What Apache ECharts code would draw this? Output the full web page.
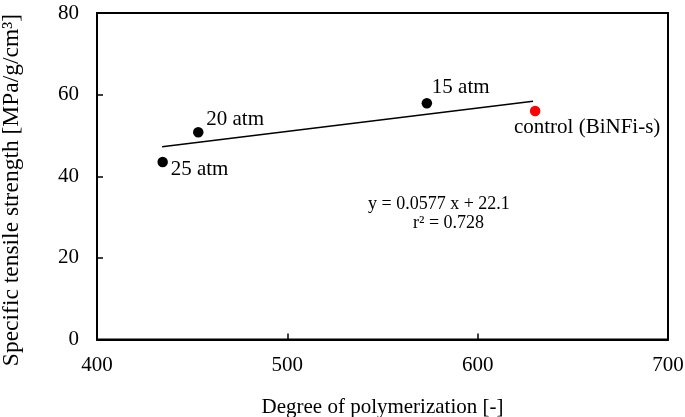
<!DOCTYPE html>
<html><head><meta charset="utf-8">
<script src="https://cdn.jsdelivr.net/npm/echarts@6/dist/echarts.min.js"></script>
<style>html,body{margin:0;padding:0;background:#fff}#c{width:685px;height:417px}</style>
</head><body><div id="c"></div>
<script>
const xTicks = [400, 500, 600, 700];
const yTicks = [0, 20, 40, 60, 80];
const sampleNames = ['25 atm', '20 atm', '15 atm'];
const sampleX = [434.5, 453.2, 573.3];
const sampleY = [43.5, 50.8, 57.9];
const controlName = 'control (BiNFi-s)';
const controlX = [630.2];
const controlY = [56.0];
const trendX = [434.2, 629.1];
const trendY = [47.2, 58.35];
const eqText = ['y = 0.0577 x + 22.1', 'r\u00b2 = 0.728'];
const xTitle = 'Degree of polymerization [-]';
const yTitle = 'Specific tensile strength [MPa/g/cm\u00b3]';

const F = '"Liberation Serif", "Times New Roman", serif';
const chart = echarts.init(document.getElementById('c'));
const labelPos = [
  {align: 'left', offset: [8, 8]},
  {align: 'left', offset: [8, -13]},
  {align: 'left', offset: [5, -16]}
];
chart.setOption({
  animation: false,
  grid: {left: 97, right: 17, top: 13, bottom: 77.5, outerBoundsMode: 'none', containLabel: false,
    show: true, borderColor: '#000', borderWidth: 2},
  xAxis: {
    type: 'value', min: xTicks[0], max: xTicks[xTicks.length - 1], interval: 100,
    name: xTitle, nameLocation: 'middle', nameGap: 57,
    nameTextStyle: {fontFamily: F, fontSize: 21, color: '#000'},
    axisLine: {lineStyle: {color: '#000', width: 2}},
    axisTick: {inside: true, length: 6, lineStyle: {color: '#000', width: 1.5}},
    axisLabel: {fontFamily: F, fontSize: 21, color: '#000', margin: 15},
    splitLine: {show: false}
  },
  yAxis: {
    type: 'value', min: yTicks[0], max: yTicks[yTicks.length - 1], interval: 20,
    axisLine: {lineStyle: {color: '#000', width: 2}},
    axisTick: {inside: true, length: 6, lineStyle: {color: '#000', width: 1.5}},
    axisLabel: {fontFamily: F, fontSize: 21, color: '#000', margin: 18},
    splitLine: {show: false}
  },
  series: [
    {
      type: 'line', data: trendX.map((x, i) => [x, trendY[i]]), symbol: 'none',
      lineStyle: {color: '#000', width: 1.5}, z: 1
    },
    {
      type: 'scatter', symbolSize: 10.5, itemStyle: {color: '#000', opacity: 1},
      data: sampleX.map((x, i) => ({value: [x, sampleY[i]], name: sampleNames[i],
        label: Object.assign({show: true, position: 'inside', verticalAlign: 'middle', formatter: sampleNames[i],
          fontFamily: F, fontSize: 21, color: '#000', opacity: 1}, labelPos[i])})),
      z: 3
    },
    {
      type: 'scatter', symbolSize: 10.5, itemStyle: {color: '#ff0000', opacity: 1},
      data: controlX.map((x, i) => ({value: [x, controlY[i]], name: controlName})),
      label: {show: true, formatter: controlName, position: 'inside', align: 'center', verticalAlign: 'middle',
        offset: [52, 17], fontFamily: F, fontSize: 21, color: '#000', opacity: 1},
      z: 3
    }
  ],
  graphic: [
    {type: 'text', x: 368, y: 204, style: {text: eqText[0], font: '18px ' + F, fill: '#000', verticalAlign: 'middle'}},
    {type: 'text', x: 413, y: 223, style: {text: eqText[1], font: '18px ' + F, fill: '#000', verticalAlign: 'middle'}},
    {type: 'text', x: 12, y: 190, rotation: Math.PI / 2,
      style: {text: yTitle, font: '23.5px ' + F, fill: '#000', align: 'center', verticalAlign: 'middle'}}
  ]
});
</script></body></html>
